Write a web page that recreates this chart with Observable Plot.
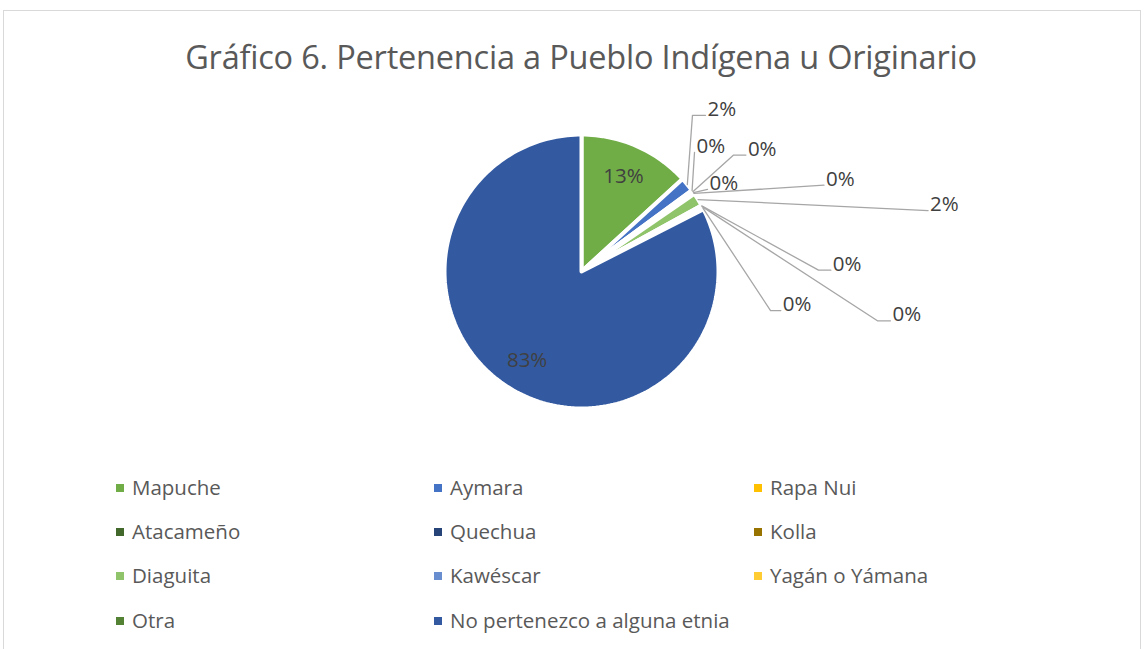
<!DOCTYPE html>
<html><head><meta charset="utf-8">
<script src="https://cdn.jsdelivr.net/npm/d3@7"></script>
<script src="https://cdn.jsdelivr.net/npm/@observablehq/plot@0.6"></script>
<style>
body{margin:0;background:#fff;font-family:"Open Sans",sans-serif;width:1146px;height:649px;overflow:hidden;position:relative}
#frame{position:absolute;left:3px;top:10px;width:1138px;height:700px;border:1px solid #d9d9d9;box-sizing:border-box}
#title{position:absolute;left:0;top:36px;width:1162px;text-align:center;font-size:32.5px;color:#595959;line-height:42px;margin:0;font-weight:400;letter-spacing:-0.2px}
#chart{position:absolute;left:0;top:90px}
.leg{position:absolute;font-size:20.5px;color:#595959;line-height:26px;white-space:nowrap}
.leg i{display:inline-block;width:8px;height:8px;margin-right:8px;vertical-align:middle;position:relative;top:-2px}
</style></head>
<body>
<div id="frame"></div>
<h2 id="title">Gráfico 6. Pertenencia a Pueblo Indígena u Originario</h2>
<div id="chart"></div>
<div id="legend"></div>
<script>
const categories = ["Mapuche","Aymara","Rapa Nui","Atacameño","Quechua","Kolla","Diaguita","Kawéscar","Yagán o Yámana","Otra","No pertenezco a alguna etnia"];
const values = [13.2, 1.7, 0.1, 0.2, 0.1, 0.1, 1.6, 0.1, 0.1, 0.3, 82.5];
const labels = ["13%","2%","0%","0%","0%","0%","2%","0%","0%","0%","83%"];
const colors = ["#70AD47","#4472C4","#FFC000","#43682B","#264478","#997300","#8FC46B","#698ED0","#FFCD33","#548235","#335AA1"];

// callout leader elbows (pie-radius units, relative to centre), for the small slices
const leaderLayout = {
  "Aymara": [[0.81,1.14],[0.905,1.14]],
  "Rapa Nui": [[0.825,0.87]],
  "Atacameño": [[1.11,0.85],[1.20,0.85]],
  "Quechua": [[0.92,0.60]],
  "Kolla": [[1.77,0.63]],
  "Diaguita": [[2.53,0.445]],
  "Kawéscar": [[1.73,0.01],[1.82,0.01]],
  "Yagán o Yámana": [[2.16,-0.36],[2.255,-0.36]],
  "Otra": [[1.38,-0.285],[1.455,-0.285]]
};
const insideLabels = ["Mapuche","No pertenezco a alguna etnia"];

const W = 1146, H = 370, R = 137, CX = 581, CY = 181;
const total = d3.sum(values);
let cum = 0;
const slices = categories.map((name,i)=>{
  const a0 = cum/total*2*Math.PI; cum += values[i];
  const a1 = cum/total*2*Math.PI;
  return {name, a0, a1, mid:(a0+a1)/2, label:labels[i]};
});
const polys = [];
for (const s of slices) {
  polys.push({name:s.name, x:0, y:0});
  const n = Math.max(3, Math.ceil((s.a1-s.a0)/(2*Math.PI)*240));
  for (let k=0;k<=n;k++){
    const a = s.a0 + (s.a1-s.a0)*k/n;
    polys.push({name:s.name, x:Math.sin(a), y:Math.cos(a)});
  }
}
const leaders = [], outer = [], inner = [];
for (const s of slices) {
  if (insideLabels.includes(s.name)) {
    inner.push({x:0.76*Math.sin(s.mid), y:0.76*Math.cos(s.mid), text:s.label});
  } else if (leaderLayout[s.name]) {
    const pts = [[Math.sin(s.mid), Math.cos(s.mid)], ...leaderLayout[s.name]];
    pts.forEach(p=>leaders.push({name:s.name, x:p[0], y:p[1]}));
    const last = pts[pts.length-1];
    outer.push({x:last[0], y:last[1], text:s.label});
  }
}

const chart = Plot.plot({
  width: W, height: H, margin: 0,
  x: {domain: [-CX/R, (W-CX)/R], axis: null},
  y: {domain: [-(H-CY)/R, CY/R], axis: null},
  color: {domain: categories, range: colors},
  marks: [
    Plot.line(polys, {x:"x", y:"y", z:"name", fill:"name", stroke:"white", strokeWidth:4, curve:"linear-closed"}),
    Plot.line(leaders, {x:"x", y:"y", z:"name", stroke:"#a6a6a6", strokeWidth:1.3}),
    Plot.text(outer, {x:"x", y:"y", text:"text", textAnchor:"start", dx:2, dy:-6, fontSize:20.5, fill:"#404040", fontFamily:"Open Sans"}),
    Plot.text(inner, {x:"x", y:"y", text:"text", fontSize:20.5, fill:"#404040", fontFamily:"Open Sans"})
  ]
});
document.getElementById("chart").appendChild(chart);

const colX = [116, 434, 754], rowY = [487, 531, 575, 620];
const leg = document.getElementById("legend");
categories.forEach((c,i)=>{
  const d = document.createElement("div");
  d.className = "leg";
  d.style.left = colX[i%3]+"px";
  d.style.top = (rowY[Math.floor(i/3)]-13)+"px";
  d.innerHTML = `<i style="background:${colors[i]}"></i>${c}`;
  leg.appendChild(d);
});
</script>
</body></html>
